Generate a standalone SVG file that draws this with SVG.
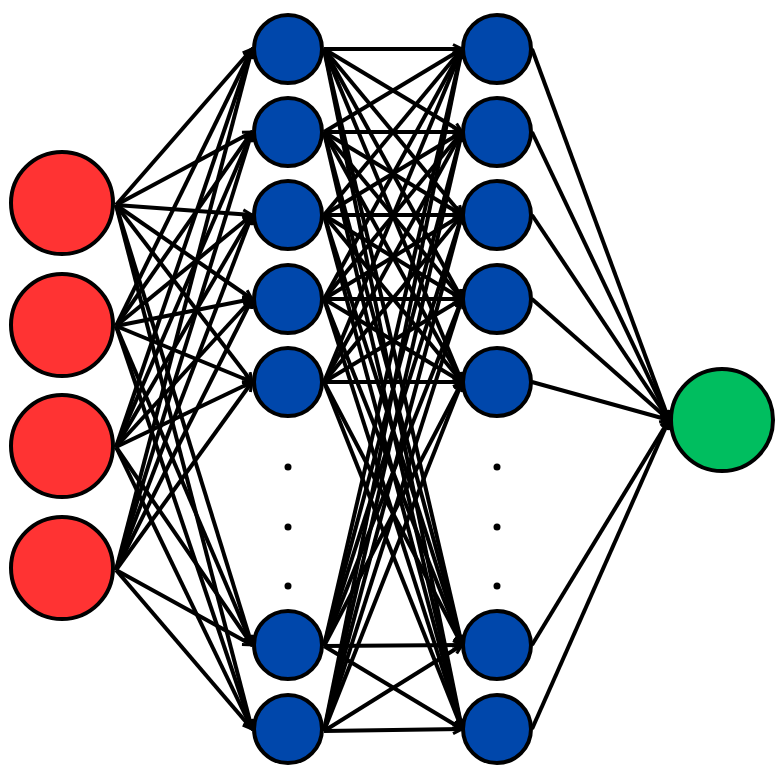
<svg xmlns="http://www.w3.org/2000/svg" width="781" height="780" viewBox="0 0 781 780">
<style>
.e{stroke:#000;stroke-width:4;fill:none;marker-end:url(#arr)}
.in{fill:#FF3333;stroke:#000;stroke-width:4}
.hd{fill:#0047AB;stroke:#000;stroke-width:4}
.out{fill:#00BE5F;stroke:#000;stroke-width:4}
.dot{fill:#000}
</style>
<defs>
<marker id="arr" viewBox="0 0 12 12" markerWidth="12" markerHeight="12" refX="10.5" refY="6" orient="auto" markerUnits="userSpaceOnUse">
<path d="M1.5,1.5 L10.5,6 L1.5,10.5" fill="none" stroke="#000" stroke-width="3"/>
</marker>
</defs>
<rect width="781" height="780" fill="#fff"/>
<g id="connectors">
<line class="e" x1="116" y1="205" x2="252" y2="49"/>
<line class="e" x1="116" y1="205" x2="252" y2="132"/>
<line class="e" x1="116" y1="205" x2="252" y2="215"/>
<line class="e" x1="116" y1="205" x2="252" y2="299"/>
<line class="e" x1="116" y1="205" x2="252" y2="382"/>
<line class="e" x1="116" y1="205" x2="252" y2="645"/>
<line class="e" x1="116" y1="205" x2="252" y2="729"/>
<line class="e" x1="116" y1="326" x2="252" y2="49"/>
<line class="e" x1="116" y1="326" x2="252" y2="132"/>
<line class="e" x1="116" y1="326" x2="252" y2="215"/>
<line class="e" x1="116" y1="326" x2="252" y2="299"/>
<line class="e" x1="116" y1="326" x2="252" y2="382"/>
<line class="e" x1="116" y1="326" x2="252" y2="645"/>
<line class="e" x1="116" y1="326" x2="252" y2="729"/>
<line class="e" x1="116" y1="447" x2="252" y2="49"/>
<line class="e" x1="116" y1="447" x2="252" y2="132"/>
<line class="e" x1="116" y1="447" x2="252" y2="215"/>
<line class="e" x1="116" y1="447" x2="252" y2="299"/>
<line class="e" x1="116" y1="447" x2="252" y2="382"/>
<line class="e" x1="116" y1="447" x2="252" y2="645"/>
<line class="e" x1="116" y1="447" x2="252" y2="729"/>
<line class="e" x1="116" y1="570" x2="252" y2="49"/>
<line class="e" x1="116" y1="570" x2="252" y2="132"/>
<line class="e" x1="116" y1="570" x2="252" y2="215"/>
<line class="e" x1="116" y1="570" x2="252" y2="299"/>
<line class="e" x1="116" y1="570" x2="252" y2="382"/>
<line class="e" x1="116" y1="570" x2="252" y2="645"/>
<line class="e" x1="116" y1="570" x2="252" y2="729"/>

<line class="e" x1="324" y1="49" x2="462" y2="49"/>
<line class="e" x1="324" y1="49" x2="462" y2="132"/>
<line class="e" x1="324" y1="49" x2="462" y2="215"/>
<line class="e" x1="324" y1="49" x2="462" y2="299"/>
<line class="e" x1="324" y1="49" x2="462" y2="382"/>
<line class="e" x1="324" y1="49" x2="462" y2="645"/>
<line class="e" x1="324" y1="49" x2="462" y2="729"/>
<line class="e" x1="324" y1="132" x2="462" y2="49"/>
<line class="e" x1="324" y1="132" x2="462" y2="132"/>
<line class="e" x1="324" y1="132" x2="462" y2="215"/>
<line class="e" x1="324" y1="132" x2="462" y2="299"/>
<line class="e" x1="324" y1="132" x2="462" y2="382"/>
<line class="e" x1="324" y1="132" x2="462" y2="645"/>
<line class="e" x1="324" y1="132" x2="462" y2="729"/>
<line class="e" x1="324" y1="215" x2="462" y2="49"/>
<line class="e" x1="324" y1="215" x2="462" y2="132"/>
<line class="e" x1="324" y1="215" x2="462" y2="215"/>
<line class="e" x1="324" y1="215" x2="462" y2="299"/>
<line class="e" x1="324" y1="215" x2="462" y2="382"/>
<line class="e" x1="324" y1="215" x2="462" y2="645"/>
<line class="e" x1="324" y1="215" x2="462" y2="729"/>
<line class="e" x1="324" y1="299" x2="462" y2="49"/>
<line class="e" x1="324" y1="299" x2="462" y2="132"/>
<line class="e" x1="324" y1="299" x2="462" y2="215"/>
<line class="e" x1="324" y1="299" x2="462" y2="299"/>
<line class="e" x1="324" y1="299" x2="462" y2="382"/>
<line class="e" x1="324" y1="299" x2="462" y2="645"/>
<line class="e" x1="324" y1="299" x2="462" y2="729"/>
<line class="e" x1="324" y1="382" x2="462" y2="49"/>
<line class="e" x1="324" y1="382" x2="462" y2="132"/>
<line class="e" x1="324" y1="382" x2="462" y2="215"/>
<line class="e" x1="324" y1="382" x2="462" y2="299"/>
<line class="e" x1="324" y1="382" x2="462" y2="382"/>
<line class="e" x1="324" y1="382" x2="462" y2="645"/>
<line class="e" x1="324" y1="382" x2="462" y2="729"/>
<line class="e" x1="324" y1="646" x2="462" y2="49"/>
<line class="e" x1="324" y1="646" x2="462" y2="132"/>
<line class="e" x1="324" y1="646" x2="462" y2="215"/>
<line class="e" x1="324" y1="646" x2="462" y2="299"/>
<line class="e" x1="324" y1="646" x2="462" y2="382"/>
<line class="e" x1="324" y1="646" x2="462" y2="645"/>
<line class="e" x1="324" y1="646" x2="462" y2="729"/>
<line class="e" x1="324" y1="731" x2="462" y2="49"/>
<line class="e" x1="324" y1="731" x2="462" y2="132"/>
<line class="e" x1="324" y1="731" x2="462" y2="215"/>
<line class="e" x1="324" y1="731" x2="462" y2="299"/>
<line class="e" x1="324" y1="731" x2="462" y2="382"/>
<line class="e" x1="324" y1="731" x2="462" y2="645"/>
<line class="e" x1="324" y1="731" x2="462" y2="729"/>

<line class="e" x1="532" y1="49" x2="669" y2="420"/>
<line class="e" x1="532" y1="132" x2="669" y2="420"/>
<line class="e" x1="532" y1="215" x2="669" y2="420"/>
<line class="e" x1="532" y1="299" x2="669" y2="420"/>
<line class="e" x1="532" y1="382" x2="669" y2="420"/>
<line class="e" x1="532" y1="645" x2="669" y2="420"/>
<line class="e" x1="532" y1="729" x2="669" y2="420"/>
</g>
<g id="input-1"><circle class="in" cx="62" cy="203" r="51"/></g>
<g id="input-2"><circle class="in" cx="62" cy="325" r="51"/></g>
<g id="input-3"><circle class="in" cx="62" cy="446" r="51"/></g>
<g id="input-4"><circle class="in" cx="62" cy="568" r="51"/></g>
<g id="h1-1"><circle class="hd" cx="288" cy="49" r="34"/></g>
<g id="h1-2"><circle class="hd" cx="288" cy="132" r="34"/></g>
<g id="h1-3"><circle class="hd" cx="288" cy="215" r="34"/></g>
<g id="h1-4"><circle class="hd" cx="288" cy="299" r="34"/></g>
<g id="h1-5"><circle class="hd" cx="288" cy="382" r="34"/></g>
<g id="h1-6"><circle class="hd" cx="288" cy="645" r="34"/></g>
<g id="h1-7"><circle class="hd" cx="288" cy="729" r="34"/></g>
<g id="h1-dots">
<circle class="dot" cx="288" cy="467" r="3.5"/>
<circle class="dot" cx="288" cy="527" r="3.5"/>
<circle class="dot" cx="288" cy="586" r="3.5"/>
</g>
<g id="h2-1"><circle class="hd" cx="497" cy="49" r="34"/></g>
<g id="h2-2"><circle class="hd" cx="497" cy="132" r="34"/></g>
<g id="h2-3"><circle class="hd" cx="497" cy="215" r="34"/></g>
<g id="h2-4"><circle class="hd" cx="497" cy="299" r="34"/></g>
<g id="h2-5"><circle class="hd" cx="497" cy="382" r="34"/></g>
<g id="h2-6"><circle class="hd" cx="497" cy="645" r="34"/></g>
<g id="h2-7"><circle class="hd" cx="497" cy="729" r="34"/></g>
<g id="h2-dots">
<circle class="dot" cx="497" cy="467" r="3.5"/>
<circle class="dot" cx="497" cy="527" r="3.5"/>
<circle class="dot" cx="497" cy="586" r="3.5"/>
</g>
<g id="output"><circle class="out" cx="722" cy="420" r="51"/></g>
</svg>
